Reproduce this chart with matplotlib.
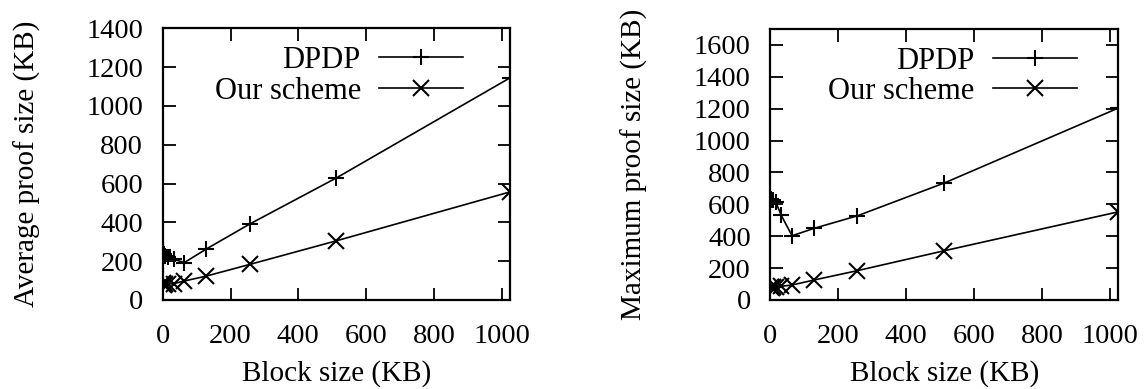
import matplotlib
matplotlib.use("Agg")
import matplotlib.pyplot as plt

plt.rcParams['font.family'] = ['Liberation Serif', 'DejaVu Serif']

block = [1, 2, 4, 8, 16, 32, 64, 128, 256, 512, 1024]

avg_dpdp = [245, 260, 235, 225, 220, 210, 193, 262, 391, 629, 1145]
avg_ours = [80, 86, 78, 80, 82, 84, 98, 123, 183, 305, 557]

max_dpdp = [630, 635, 628, 626, 615, 532, 403, 449, 528, 734, 1204]
max_ours = [80, 84, 78, 80, 82, 86, 94, 125, 184, 309, 553]

ylabels = ["Average proof size (KB)", "Maximum proof size (KB)"]
ymax = [1400, 1700]
yticks = [range(0, 1401, 200), range(0, 1601, 200)]

fig = plt.figure(figsize=(11.48, 3.89), dpi=100)
rects = [[0.1417, 0.2288, 0.3026, 0.6984],
         [0.6710, 0.2288, 0.3031, 0.6966]]
series = [(avg_dpdp, avg_ours), (max_dpdp, max_ours)]
leg_x = [0.865, 0.881]

for i in range(2):
    ax = fig.add_axes(rects[i])
    d, o = series[i]
    ax.plot(block, d, color='black', lw=1.2, marker='+', ms=11, mew=1.5, label='DPDP')
    ax.plot(block, o, color='black', lw=1.2, marker='x', ms=11, mew=1.5, label='Our scheme')
    ax.set_xlim(0, 1024)
    ax.set_ylim(0, ymax[i])
    ax.set_xticks(range(0, 1001, 200))
    ax.set_yticks(list(yticks[i]))
    ax.tick_params(direction='in', length=9, width=1.3, top=True, right=True,
                   labelsize=20.5)
    ax.tick_params(axis='x', pad=17)
    ax.tick_params(axis='y', pad=14)
    for s in ax.spines.values():
        s.set_linewidth(1.6)
    ax.set_xlabel("Block size (KB)", fontsize=21, va='center')
    ax.xaxis.set_label_coords(0.5, -0.272)
    ax.set_ylabel(ylabels[i], fontsize=21, va='center')
    ax.yaxis.set_label_coords(-0.39, 0.5)
    ax.legend(loc='upper right', bbox_to_anchor=(leg_x[i], 0.935), frameon=False,
              markerfirst=False, fontsize=22, handlelength=2.75,
              handletextpad=0.6, labelspacing=0.05, borderpad=0,
              borderaxespad=0)

fig.savefig("out.png", dpi=100)
